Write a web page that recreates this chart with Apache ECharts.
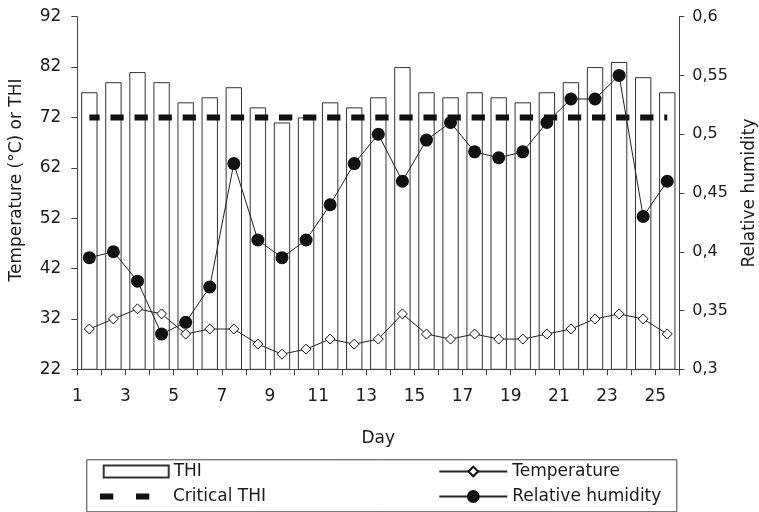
<!DOCTYPE html>
<html>
<head>
<meta charset="utf-8">
<script src="https://cdn.jsdelivr.net/npm/echarts@6.0.0/dist/echarts.min.js"></script>
<style>
  html, body { margin: 0; padding: 0; background: #fff; }
  #chart { width: 759px; height: 512px; }
</style>
</head>
<body>
<div id="chart"></div>
<script>
// ---- data ----
const days = [1,2,3,4,5,6,7,8,9,10,11,12,13,14,15,16,17,18,19,20,21,22,23,24,25];
const thi = [77,79,81,79,75,76,78,74,71,72,75,74,76,82,77,76,77,76,75,77,79,82,83,80,77];
const criticalTHI = [72,72,72,72,72,72,72,72,72,72,72,72,72,72,72,72,72,72,72,72,72,72,72,72,72];
const temperature = [30,32,34,33,29,30,30,27,25,26,28,27,28,33,29,28,29,28,28,29,30,32,33,32,29];
const humidity = [0.395,0.40,0.375,0.33,0.34,0.37,0.475,0.41,0.395,0.41,0.44,0.475,0.50,0.46,0.495,0.51,0.485,0.48,0.485,0.51,0.53,0.53,0.55,0.43,0.46];
const leftAxisRange = { min: 22, max: 92, interval: 10 };
const rightAxisRange = { min: 0.3, max: 0.6, interval: 0.05 };

const FONT = 'DejaVu Sans';
const TXT = '#1a1a1a';
const HIDDEN = 'rgba(0,0,0,0)';

const chart = echarts.init(document.getElementById('chart'), null, { renderer: 'canvas' });

function legendBox(name, left, top, w, h, extra) {
  return Object.assign({
    show: true,
    left: left, top: top,
    orient: 'horizontal',
    padding: 0,
    itemGap: 0,
    itemWidth: w,
    itemHeight: h,
    selectedMode: false,
    data: [name],
    textStyle: { fontFamily: FONT, fontSize: 17, color: TXT, lineHeight: 18 }
  }, extra || {});
}

const option = {
  animation: false,
  backgroundColor: '#ffffff',
  grid: { left: 77.3, right: 79.7, top: 16.7, bottom: 142.7, containLabel: false, outerBoundsMode: 'none' },
  xAxis: {
    type: 'category',
    data: days,
    boundaryGap: true,
    name: 'Day',
    nameLocation: 'middle',
    nameGap: 61,
    nameTextStyle: { fontFamily: FONT, fontSize: 17, color: TXT },
    axisLine: { lineStyle: { color: '#444', width: 1 } },
    axisTick: { show: true, interval: 0, length: 6, lineStyle: { color: '#444' } },
    axisLabel: {
      interval: 1,
      margin: 19,
      color: TXT,
      formatter: function (v) { return '{a|' + v + '}'; },
      rich: { a: { fontFamily: FONT, fontSize: 17, color: TXT, padding: [0, 24, 0, 0] } }
    },
    splitLine: { show: false }
  },
  yAxis: [
    {
      type: 'value',
      min: leftAxisRange.min, max: leftAxisRange.max, interval: leftAxisRange.interval,
      name: 'Temperature (°C) or THI',
      nameLocation: 'middle',
      nameGap: 52,
      nameTextStyle: { fontFamily: FONT, fontSize: 17, color: TXT, padding: [0, 0, 0, 26] },
      axisLine: { show: true, lineStyle: { color: '#444', width: 1 } },
      axisTick: { show: true, length: 6, lineStyle: { color: '#444' } },
      axisLabel: { fontFamily: FONT, fontSize: 17, color: TXT, margin: 16 },
      splitLine: { show: false }
    },
    {
      type: 'value',
      position: 'right',
      min: rightAxisRange.min, max: rightAxisRange.max, interval: rightAxisRange.interval,
      name: 'Relative humidity',
      nameLocation: 'middle',
      nameGap: 62,
      nameTextStyle: { fontFamily: FONT, fontSize: 17, color: TXT },
      axisLine: { show: true, lineStyle: { color: '#444', width: 1 } },
      axisTick: { show: true, length: 5, lineStyle: { color: '#444' } },
      axisLabel: {
        fontFamily: FONT, fontSize: 16, color: TXT, margin: 13,
        formatter: function (v) { return String(+v.toFixed(2)).replace('.', ','); }
      },
      splitLine: { show: false }
    }
  ],
  legend: [
    legendBox('THI', 102.7, 462.5, 65, 12, { icon: 'rect' }),
    legendBox('Critical THI', 97, 487.5, 68, 12, {
      data: [{
        name: 'Critical THI',
        itemStyle: { color: HIDDEN, borderColor: HIDDEN, borderWidth: 0 },
        lineStyle: { type: [13.3, 22.7], width: 6, color: '#111', dashOffset: 0, cap: 'butt' }
      }]
    }),
    legendBox('Temperature', 438.3, 462.5, 68, 12),
    legendBox('Relative humidity', 438.3, 487.5, 68, 16)
  ],
  graphic: [
    {
      type: 'rect',
      left: 84.3, top: 457.3,
      shape: { width: 590, height: 52 },
      style: { fill: 'none', stroke: '#444', lineWidth: 1 },
      silent: true
    }
  ],
  series: [
    {
      name: 'THI',
      type: 'bar',
      data: thi,
      barWidth: '68%',
      itemStyle: { color: '#ffffff', borderColor: '#333', borderWidth: 1 },
      z: 1
    },
    {
      name: 'Critical THI',
      type: 'line',
      data: criticalTHI,
      symbol: 'none',
      itemStyle: { color: '#111' },
      lineStyle: { color: '#111', width: 6, type: [13.3, 10.78], dashOffset: 3, cap: 'butt' },
      z: 2
    },
    {
      name: 'Temperature',
      type: 'line',
      data: temperature,
      symbol: 'diamond',
      symbolSize: [10, 10],
      itemStyle: { color: '#ffffff', borderColor: '#111', borderWidth: 1 },
      lineStyle: { color: '#222', width: 1 },
      z: 3
    },
    {
      name: 'Relative humidity',
      type: 'line',
      yAxisIndex: 1,
      data: humidity,
      symbol: 'circle',
      symbolSize: 13,
      itemStyle: { color: '#111' },
      lineStyle: { color: '#222', width: 1 },
      z: 4
    }
  ]
};

chart.setOption(option);
</script>
</body>
</html>
